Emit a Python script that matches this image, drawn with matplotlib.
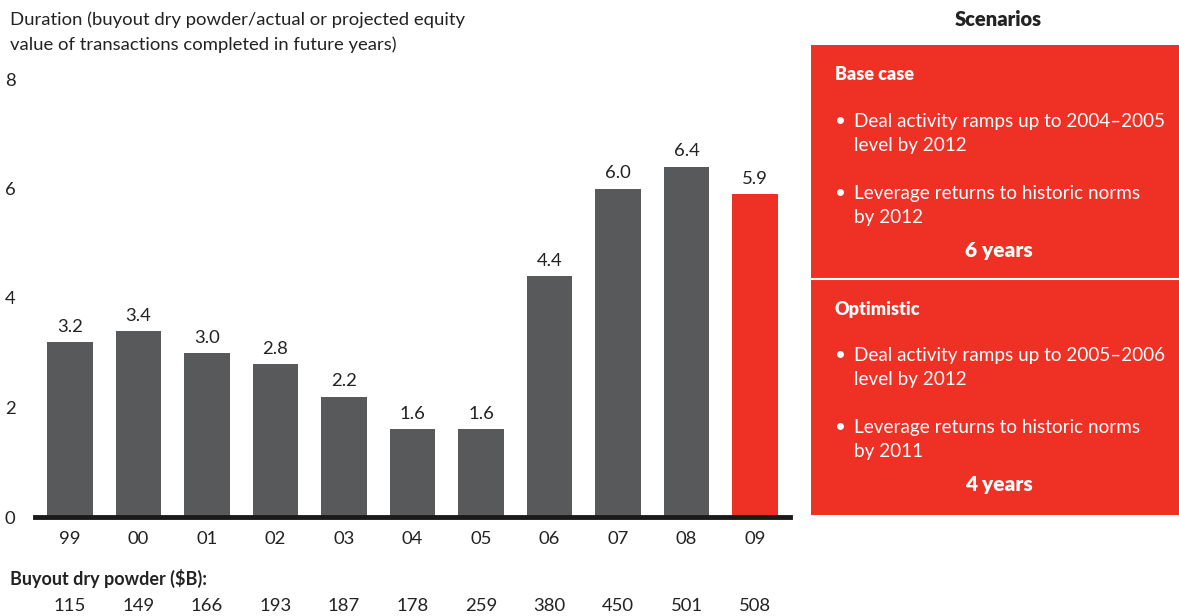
import matplotlib
matplotlib.use("Agg")
import matplotlib.pyplot as plt
from matplotlib.patches import Rectangle
from matplotlib.transforms import blended_transform_factory

plt.rcParams['font.family'] = ['Lato', 'DejaVu Sans']

years = ["99", "00", "01", "02", "03", "04", "05", "06", "07", "08", "09"]
duration = [3.2, 3.4, 3.0, 2.8, 2.2, 1.6, 1.6, 4.4, 6.0, 6.4, 5.9]
dry_powder = [115, 149, 166, 193, 187, 178, 259, 380, 450, 501, 508]
yticks = [0, 2, 4, 6, 8]

GRAY = "#58595B"
RED = "#EE3124"
TXT = "#222222"

W, H = 1179, 616
fig = plt.figure(figsize=(W / 100, H / 100), dpi=100)

def fx(px):
    return px / W

def fy(py):
    return 1 - py / H

# axes: x pixels 35..790, y pixels 80 (8) .. 517 (0)
ax = fig.add_axes([fx(35), fy(517), fx(790) - fx(35), fy(79) - fy(517)])
x = list(range(len(years)))
colors = [GRAY] * (len(years) - 1) + [RED]
ax.bar(x, duration, width=0.67, color=colors, zorder=2)
ax.set_xlim(-0.51, len(years) - 0.49)
ax.set_ylim(0, 8)
for s in ["top", "right", "left"]:
    ax.spines[s].set_visible(False)
ax.spines["bottom"].set_linewidth(3.5)
ax.spines["bottom"].set_color("#1a1a1a")
ax.set_yticks(yticks)
ax.set_yticklabels([str(t) for t in yticks], fontsize=13.3, color=TXT)
ax.tick_params(axis="y", length=0, pad=14)
ax.set_xticks(x)
ax.set_xticklabels(years, fontsize=13.3, color=TXT)
ax.tick_params(axis="x", length=0, pad=10)

for xi, v in zip(x, duration):
    ax.text(xi, v + 0.13, f"{v:.1f}", ha="center", va="bottom", fontsize=13.3, color=TXT)

tr = blended_transform_factory(ax.transData, fig.transFigure)
for xi, v in zip(x, dry_powder):
    ax.text(xi, fy(606), str(v), ha="center", va="center", fontsize=13.3, color=TXT, transform=tr)

fig.text(fx(10), fy(578), "Buyout dry powder ($B):", ha="left", va="center",
         fontsize=13, fontweight="bold", color=TXT)

fig.text(fx(10), fy(20), "Duration (buyout dry powder/actual or projected equity",
         ha="left", va="center", fontsize=13.3, color=TXT)
fig.text(fx(10), fy(45), "value of transactions completed in future years)",
         ha="left", va="center", fontsize=13.3, color=TXT)

# Right panel
fig.text(fx(998), fy(20), "Scenarios", ha="center", va="center", fontsize=14.5,
         fontweight="heavy", color=TXT)
fig.patches.append(Rectangle((fx(811), fy(515)), fx(1179) - fx(811), fy(45) - fy(515),
                             transform=fig.transFigure, facecolor=RED, edgecolor="none"))
fig.lines.append(plt.Line2D([fx(811), fx(1179)], [fy(279), fy(279)], transform=fig.transFigure,
                            color="white", linewidth=1.5))

def scenario(top, title, bullets, result):
    fig.text(fx(835), fy(top), title, ha="left", va="center", fontsize=13,
             fontweight="heavy", color="white")
    yy = top + 47
    for b in bullets:
        lines = b.split("\n")
        fig.text(fx(835), fy(yy), "•", ha="left", va="center", fontsize=13.5, color="white")
        for i, ln in enumerate(lines):
            fig.text(fx(854), fy(yy + 24 * i), ln, ha="left", va="center", fontsize=13.6, color="white")
        yy += 72
    fig.text(fx(999), fy(top + 176), result, ha="center", va="center", fontsize=15,
             fontweight="heavy", color="white")

scenario(74, "Base case",
         ["Deal activity ramps up to 2004\u20132005\nlevel by 2012",
          "Leverage returns to historic norms\nby 2012"], "6 years")
scenario(309, "Optimistic",
         ["Deal activity ramps up to 2005\u20132006\nlevel by 2012",
          "Leverage returns to historic norms\nby 2011"], "4 years")

fig.savefig("out.png", dpi=100)
